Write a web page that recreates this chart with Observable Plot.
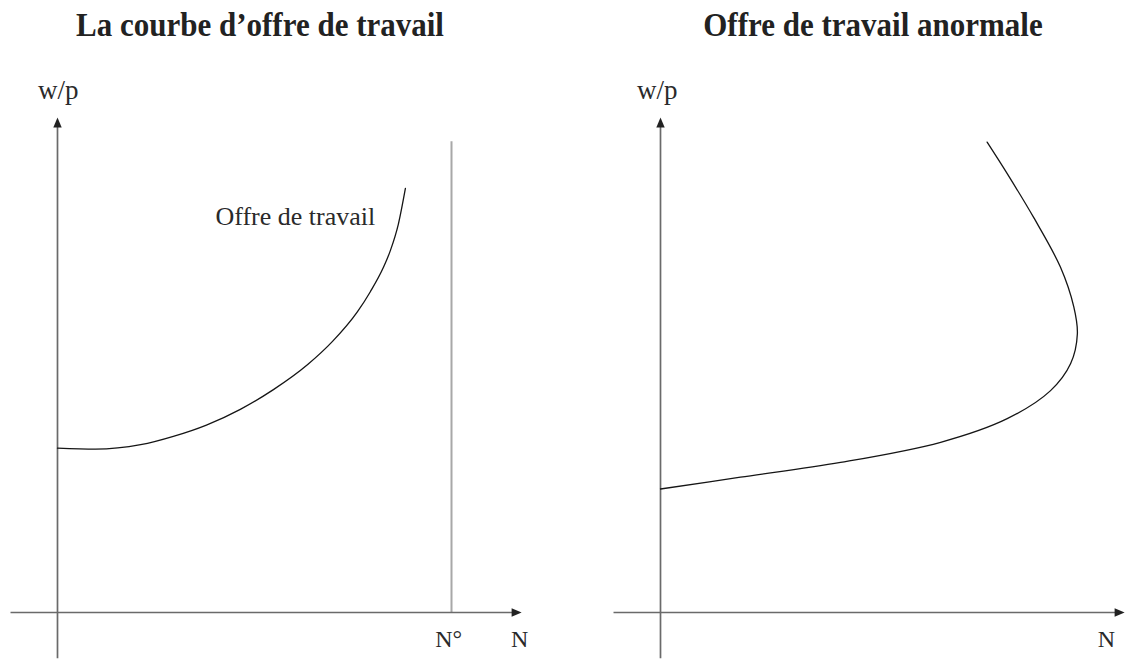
<!DOCTYPE html>
<html>
<head>
<meta charset="utf-8">
<script src="https://cdn.jsdelivr.net/npm/d3@7"></script>
<script src="https://cdn.jsdelivr.net/npm/@observablehq/plot@0.6"></script>
<style>
  body { margin: 0; background: #fff; font-family: "Liberation Serif", "DejaVu Serif", serif; }
  #wrap { position: relative; width: 1128px; height: 659px; overflow: hidden; background: #fff; }
  .title { position: absolute; top: 10px; font-weight: bold; font-size: 31px; line-height: 31px; color: #222; white-space: nowrap; transform: translateX(-50%) scaleY(1.12); transform-origin: 50% 84%; }
  #left { position: absolute; left: 0; top: 50px; }
  #right { position: absolute; left: 564px; top: 50px; }
</style>
</head>
<body>
<div id="wrap">
  <div class="title" id="t0" style="left:260px"></div>
  <div class="title" id="t1" style="left:873px"></div>
  <div id="left"></div>
  <div id="right"></div>
</div>
<script>
// ---- Data ----
const titles = ["La courbe d’offre de travail", "Offre de travail anormale"];
const axisLabelY = "w/p";
const axisLabelX = "N";
const fullEmploymentLabel = "N°";
const curveLabel = "Offre de travail";

// Left panel: normal labour supply curve (N, w/p)
const leftCurveN = [0, 0.96, 2.11, 2.94, 3.78, 4.64, 5.48, 6.35, 6.98, 7.61, 7.94, 8.27, 8.45, 8.65, 8.83];
const leftCurveW = [3.34, 3.32, 3.41, 3.58, 3.81, 4.13, 4.53, 5.04, 5.51, 6.11, 6.52, 7.01, 7.36, 7.89, 8.62];

// Right panel: backward-bending labour supply curve (N, w/p)
const rightCurveN = [0, 2.03, 4.57, 7.11, 8.80, 9.90, 10.41, 10.58, 10.49, 10.15, 9.47, 8.80, 8.29];
const rightCurveW = [2.51, 2.75, 3.05, 3.46, 3.94, 4.51, 5.06, 5.66, 6.21, 7.02, 8.03, 8.92, 9.56];

// Full-employment line N° (left panel)
const fullEmploymentN = 10;
const fullEmploymentTop = 9.57;

// Axis extents (data units)
const xAxisFrom = -1.18, xAxisTo = 11.6, xArrowTip = 11.78;
const yAxisFrom = -0.94, yAxisTo = 9.9, yArrowTip = 10.06;

// ---- Build ----
document.getElementById("t0").textContent = titles[0];
document.getElementById("t1").textContent = titles[1];

const toPoints = (xs, ys) => xs.map((x, i) => ({x, y: ys[i]}));
const FONT = "Liberation Serif";

// filled arrowhead whose tip sits on the anchor point (pointing up before rotation)
const arrowHead = {
  draw(context) {
    context.moveTo(0, 0);
    context.lineTo(-4.2, 10);
    context.lineTo(4.2, 10);
    context.closePath();
  }
};

function panel({originPx, curve, curveType, extraRules, labels, startLabels}) {
  const axesX = [{x1: xAxisFrom, x2: xAxisTo, y: 0}];
  const axesY = [{y1: yAxisFrom, y2: yAxisTo, x: 0}];
  const heads = [{x: xArrowTip, y: 0, rot: 90}, {x: 0, y: yArrowTip, rot: 0}];
  return Plot.plot({
    width: 564,
    height: 609,
    margin: 0,
    x: {domain: [0, 10], range: [originPx, originPx + 394], axis: null},
    y: {domain: [0, 10], range: [562, 70], axis: null},
    style: {background: "#fff", overflow: "visible"},
    marks: [
      Plot.ruleX(extraRules, {x: "x", y1: "y1", y2: "y2", stroke: "#a8a8a8", strokeWidth: 2}),
      Plot.ruleY(axesX, {y: "y", x1: "x1", x2: "x2", stroke: "#6a6a6a", strokeWidth: 1.7}),
      Plot.ruleX(axesY, {x: "x", y1: "y1", y2: "y2", stroke: "#6a6a6a", strokeWidth: 1.7}),
      Plot.dot(heads, {x: "x", y: "y", rotate: "rot", symbol: arrowHead, r: 4, fill: "#222", stroke: null}),
      Plot.line(curve, {x: "x", y: "y", curve: curveType, stroke: "#151515", strokeWidth: 1.3}),
      Plot.text(labels, {x: "x", y: "y", text: "text", fontSize: "size", textAnchor: "middle",
        lineAnchor: "bottom", fill: "#2a2a2a", fontFamily: FONT}),
      Plot.text(startLabels, {x: "x", y: "y", text: "text", fontSize: "size", textAnchor: "start",
        lineAnchor: "bottom", fill: "#2a2a2a", fontFamily: FONT})
    ]
  });
}

const leftLabels = [
  {x: 0.02, y: 10.43, text: axisLabelY, size: 27},
  {x: 9.93, y: -0.71, text: fullEmploymentLabel, size: 24},
  {x: 11.73, y: -0.71, text: axisLabelX, size: 24}
];
const leftStartLabels = [
  {x: 4.01, y: 7.87, text: curveLabel, size: 26}
];
const rightLabels = [
  {x: -0.08, y: 10.43, text: axisLabelY, size: 27},
  {x: 11.32, y: -0.71, text: axisLabelX, size: 24}
];

document.getElementById("left").appendChild(panel({
  originPx: 57,
  curve: toPoints(leftCurveN, leftCurveW),
  curveType: "monotone-x",
  extraRules: [{x: fullEmploymentN, y1: 0, y2: fullEmploymentTop}],
  labels: leftLabels,
  startLabels: leftStartLabels
}));
document.getElementById("right").appendChild(panel({
  originPx: 96,
  curve: toPoints(rightCurveN, rightCurveW),
  curveType: "catmull-rom",
  extraRules: [],
  labels: rightLabels,
  startLabels: []
}));
</script>
</body>
</html>
